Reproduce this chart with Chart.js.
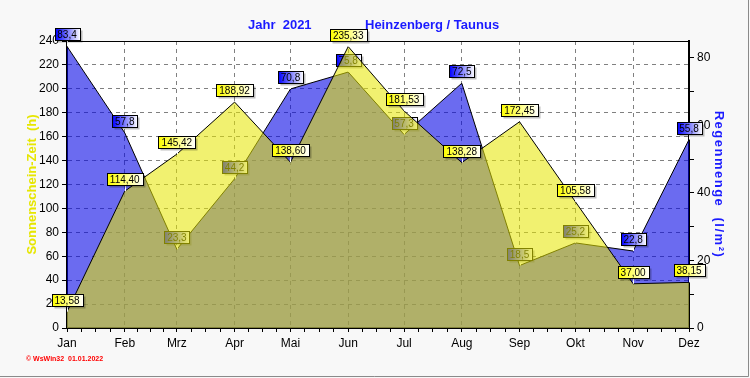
<!DOCTYPE html>
<html>
<head>
<meta charset="utf-8">
<script src="https://cdn.jsdelivr.net/npm/chart.js@4.4.1/dist/chart.umd.min.js"></script>
<style>
    html, body { margin: 0; padding: 0; background: #f8f8f8; }
    canvas { display: block; }
</style>
</head>
<body>
<canvas id="wetterChart" width="750" height="378"></canvas>
<script>
// Monatswerte 2021
const months = ['Jan', 'Feb', 'Mrz', 'Apr', 'Mai', 'Jun', 'Jul', 'Aug', 'Sep', 'Okt', 'Nov', 'Dez'];
const monthDays = [0, 31, 59, 90, 120, 151, 181, 212, 243, 273, 304, 334]; // Tag im Jahr am Monatsanfang
const sunHours = [13.58, 114.40, 145.42, 188.92, 138.60, 235.33, 181.53, 138.28, 172.45, 105.58, 37.00, 38.15];
const rainMm = [83.4, 57.8, 23.3, 44.2, 70.8, 75.8, 57.3, 72.5, 18.5, 25.2, 22.8, 55.8];
const sunTicks = [0, 20, 40, 60, 80, 100, 120, 140, 160, 180, 200, 220, 240];
const rainTicks = [0, 10, 20, 30, 40, 50, 60, 70, 80];

const narrow = '"Liberation Sans Narrow", Arial, sans-serif';

// month ticks plus three small ticks in between
const xTicks = [];
monthDays.forEach(function (d, i) {
    xTicks.push(d);
    if (i < monthDays.length - 1) {
        const len = monthDays[i + 1] - d;
        for (let k = 1; k < 4; k++) xTicks.push(d + len * k / 4);
    }
});

function drawValueLabels(chart, index, decimals, color) {
    const ctx = chart.ctx;
    const meta = chart.getDatasetMeta(index);
    const values = chart.data.datasets[index].data;
    ctx.save();
    ctx.font = '10px ' + narrow;
    ctx.textAlign = 'center';
    ctx.textBaseline = 'middle';
    ctx.lineWidth = 1;
    meta.data.forEach(function (pt, i) {
        const text = values[i].y.toFixed(decimals).replace('.', ',');
        const w = Math.round(ctx.measureText(text).width) + 6;
        const h = 12;
        const x = Math.round(pt.x - w / 2) + 0.5;
        const y = Math.round(pt.y - 12 - h / 2) + 0.5;
        // little pointer down to the point
        ctx.strokeStyle = '#fff';
        ctx.beginPath();
        ctx.moveTo(Math.round(pt.x) + 0.5, y + h);
        ctx.lineTo(Math.round(pt.x) + 0.5, pt.y);
        ctx.stroke();
        // shadow
        ctx.fillStyle = 'rgba(0,0,0,0.25)';
        ctx.fillRect(x + 2, y + 2, w, h);
        const grad = ctx.createLinearGradient(x, 0, x + w, 0);
        grad.addColorStop(0, color);
        grad.addColorStop(1, '#ffffff');
        ctx.fillStyle = grad;
        ctx.fillRect(x, y, w, h);
        ctx.strokeStyle = '#000';
        ctx.strokeRect(x, y, w, h);
        ctx.fillStyle = '#000';
        ctx.fillText(text, pt.x, y + h / 2 + 1);
    });
    ctx.restore();
}

const decoPlugin = {
    id: 'deco',
    beforeDraw: function (chart) {
        const ctx = chart.ctx;
        const a = chart.chartArea;
        ctx.save();
        ctx.fillStyle = '#f8f8f8';
        ctx.fillRect(0, 0, chart.width, chart.height);
        ctx.fillStyle = '#ffffff';
        ctx.fillRect(a.left, a.top, a.right - a.left, a.bottom - a.top);
        // frame
        ctx.strokeStyle = '#8a8a8a';
        ctx.lineWidth = 1;
        ctx.beginPath();
        ctx.moveTo(0, chart.height - 1.5);
        ctx.lineTo(chart.width - 1.5, chart.height - 1.5);
        ctx.lineTo(chart.width - 1.5, 0);
        ctx.stroke();
        ctx.restore();
    },
    beforeDatasetsDraw: function (chart) {
        const ctx = chart.ctx;
        const a = chart.chartArea;
        ctx.save();
        ctx.strokeStyle = '#000';
        ctx.lineWidth = 1;
        ctx.beginPath();
        ctx.moveTo(a.left, a.top + 0.5);
        ctx.lineTo(a.right, a.top + 0.5);
        ctx.stroke();
        ctx.restore();
    },
    afterDatasetDraw: function (chart, args) {
        // rain labels go under the yellow area
        if (args.index === 1) drawValueLabels(chart, 1, 1, '#0000ff');
    },
    afterDatasetsDraw: function (chart) {
        drawValueLabels(chart, 0, 2, '#ffff00');
    },
    afterDraw: function (chart) {
        const ctx = chart.ctx;
        const a = chart.chartArea;
        const midY = (a.top + a.bottom) / 2;
        ctx.save();
        // title
        ctx.fillStyle = '#1a1aff';
        ctx.font = 'bold 13px Arial, sans-serif';
        ctx.textAlign = 'left';
        ctx.textBaseline = 'alphabetic';
        ctx.fillText('Jahr  2021', 248, 29);
        ctx.fillText('Heinzenberg / Taunus', 365, 29);
        // left axis title
        ctx.save();
        ctx.translate(36, midY);
        ctx.rotate(-Math.PI / 2);
        ctx.textAlign = 'center';
        ctx.fillStyle = '#e6e600';
        ctx.fillText('Sonnenschein-Zeit  (h)', 0, 0);
        ctx.restore();
        // right axis title
        ctx.save();
        ctx.translate(715, midY);
        ctx.rotate(Math.PI / 2);
        ctx.textAlign = 'center';
        ctx.fillStyle = '#1a1aff';
        ctx.letterSpacing = '1.5px';
        ctx.fillText('Regenmenge  (l/m²)', 0, 0);
        ctx.restore();
        // footer
        ctx.fillStyle = '#ff0000';
        ctx.font = 'bold 7px Arial, sans-serif';
        ctx.fillText('© WsWin32  01.01.2022', 26, 361);
        ctx.restore();
    }
};

const ctx = document.getElementById('wetterChart').getContext('2d');
const wetterChart = new Chart(ctx, {
    type: 'line',
    data: {
        datasets: [
            {
                label: 'Sonnenschein-Zeit',
                data: sunHours.map(function (v, i) { return { x: monthDays[i], y: v }; }),
                yAxisID: 'y',
                fill: 'origin',
                backgroundColor: 'rgba(230, 230, 0, 0.56)',
                borderColor: '#000',
                borderWidth: 1,
                pointRadius: 0,
                tension: 0,
                order: 0
            },
            {
                label: 'Regenmenge',
                data: rainMm.map(function (v, i) { return { x: monthDays[i], y: v }; }),
                yAxisID: 'y1',
                fill: 'origin',
                backgroundColor: 'rgba(0, 0, 230, 0.58)',
                borderColor: '#000',
                borderWidth: 1,
                pointRadius: 0,
                tension: 0,
                order: 1
            }
        ]
    },
    options: {
        responsive: false,
        animation: false,
        layout: { padding: { top: 41, left: 0, right: 0, bottom: 0 } },
        plugins: {
            legend: { display: false },
            title: { display: false },
            tooltip: { enabled: false }
        },
        scales: {
            x: {
                type: 'linear',
                min: 0,
                max: 334,
                afterBuildTicks: function (axis) {
                    axis.ticks = xTicks.map(function (v) { return { value: v }; });
                },
                afterFit: function (s) { s.height = 50; },
                ticks: {
                    autoSkip: false,
                    maxRotation: 0,
                    padding: 4,
                    color: '#000',
                    font: { family: narrow, size: 12 },
                    callback: function (value) {
                        const i = monthDays.indexOf(value);
                        return i >= 0 ? months[i] : '';
                    }
                },
                grid: {
                    color: function (c) {
                        return c.tick && monthDays.indexOf(c.tick.value) >= 0 ? '#808080' : 'rgba(0,0,0,0)';
                    },
                    tickColor: '#000',
                    tickLength: 4
                },
                border: { color: '#000', width: 2, dash: [4, 4] }
            },
            y: {
                position: 'left',
                min: 0,
                max: 240,
                afterBuildTicks: function (axis) {
                    axis.ticks = sunTicks.map(function (v) { return { value: v }; });
                },
                afterFit: function (s) { s.width = 67; },
                ticks: {
                    padding: 3,
                    color: '#000',
                    font: { family: narrow, size: 12 }
                },
                grid: { color: '#808080', tickColor: '#000', tickLength: 5 },
                border: { color: '#000', width: 2, dash: [4, 4] }
            },
            y1: {
                position: 'right',
                min: 0,
                max: 85,
                afterBuildTicks: function (axis) {
                    axis.ticks = rainTicks.map(function (v) { return { value: v }; });
                },
                afterFit: function (s) { s.width = 61; },
                ticks: {
                    padding: 3,
                    color: '#000',
                    font: { family: narrow, size: 12 },
                    callback: function (value) { return value % 20 === 0 ? value : ''; }
                },
                grid: { drawOnChartArea: false, tickColor: '#000', tickLength: 5 },
                border: { color: '#000', width: 2 }
            }
        }
    },
    plugins: [decoPlugin]
});
</script>
</body>
</html>
